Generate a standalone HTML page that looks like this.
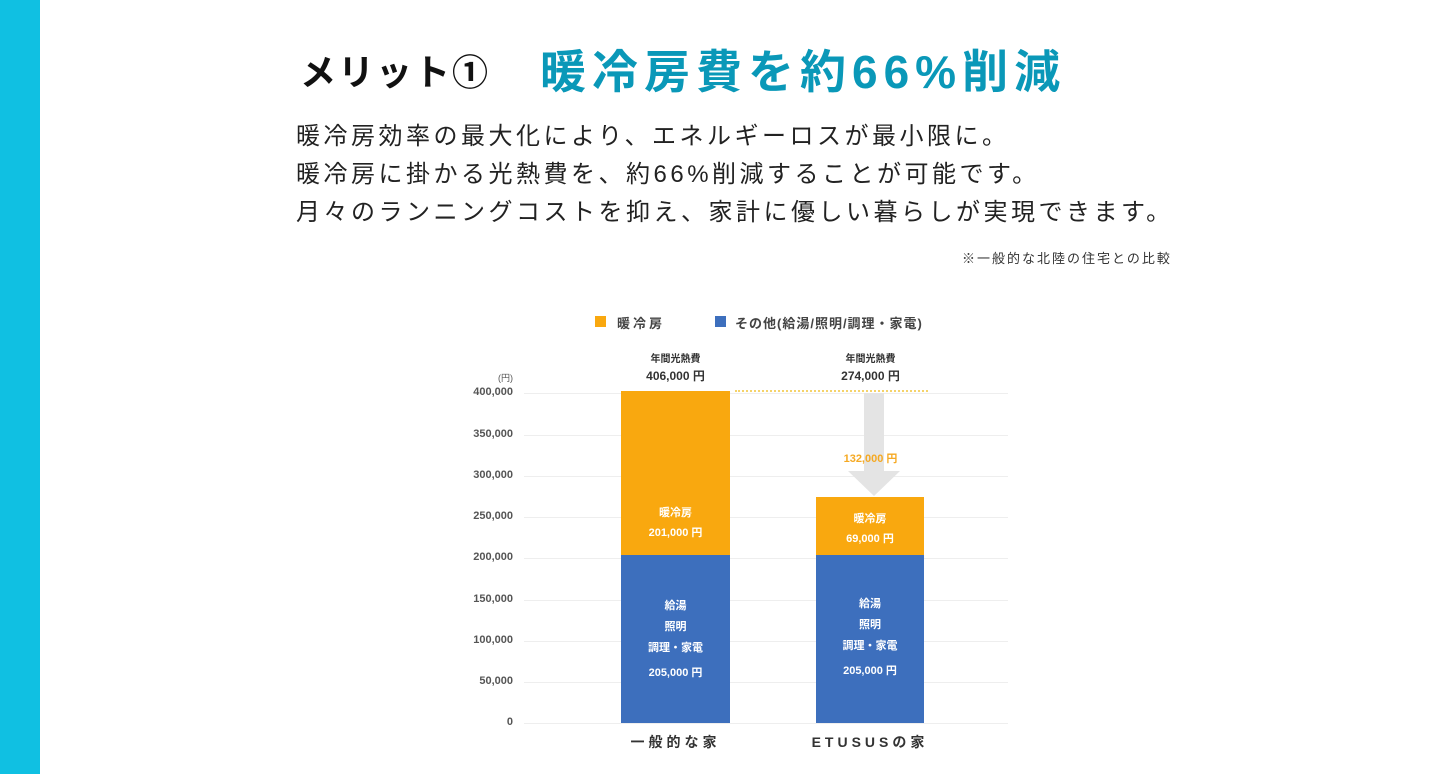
<!DOCTYPE html>
<html><head><meta charset="utf-8"><style>
body{margin:0;width:1440px;height:774px;background:#fff;position:relative;overflow:hidden;font-family:"Liberation Sans","Noto Sans CJK JP",sans-serif}
.a{position:absolute;white-space:nowrap}
.yl{position:absolute;left:440px;width:73px;text-align:right;font-size:11px;color:#555;font-weight:bold}
.g{position:absolute;left:524px;width:484px;height:1px;background:#eee}
.w{color:#fff;font-weight:bold;font-size:11px;text-align:center;position:absolute}
</style></head><body>
<div class="a" style="left:0;top:0;width:40px;height:774px;background:#10c0e2"></div>
<div class="a" style="left:300px;top:44px;font-size:36px;font-weight:bold;color:#111;letter-spacing:2px">メリット①</div>
<div class="a" style="left:540px;top:36px;font-size:46px;font-weight:bold;color:#0a98b8;letter-spacing:6px">暖冷房費を約66%削減</div>
<div class="a" style="left:296px;top:118px;font-size:24px;line-height:38px;color:#222;letter-spacing:3.5px">暖冷房効率の最大化により、エネルギーロスが最小限に。<br>暖冷房に掛かる光熱費を、約66%削減することが可能です。<br>月々のランニングコストを抑え、家計に優しい暮らしが実現できます。</div>
<div class="a" style="left:962px;top:248px;font-size:13px;color:#333;letter-spacing:2px">※一般的な北陸の住宅との比較</div>
<div class="a" style="left:595px;top:316px;width:11px;height:11px;background:#f9a80f"></div>
<div class="a" style="left:617px;top:313px;font-size:13px;font-weight:bold;color:#444;letter-spacing:3px">暖冷房</div>
<div class="a" style="left:715px;top:316px;width:11px;height:11px;background:#3d6fbd"></div>
<div class="a" style="left:735px;top:313px;font-size:13px;font-weight:bold;color:#444;letter-spacing:1px">その他(給湯/照明/調理・家電)</div>
<div class="a" style="left:498px;top:371px;font-size:9px;color:#555">(円)</div>
<div class="g" style="top:393px"></div><div class="yl" style="top:386px">400,000</div>
<div class="g" style="top:435px"></div><div class="yl" style="top:428px">350,000</div>
<div class="g" style="top:476px"></div><div class="yl" style="top:469px">300,000</div>
<div class="g" style="top:517px"></div><div class="yl" style="top:510px">250,000</div>
<div class="g" style="top:558px"></div><div class="yl" style="top:551px">200,000</div>
<div class="g" style="top:600px"></div><div class="yl" style="top:593px">150,000</div>
<div class="g" style="top:641px"></div><div class="yl" style="top:634px">100,000</div>
<div class="g" style="top:682px"></div><div class="yl" style="top:675px">50,000</div>
<div class="g" style="top:723px"></div><div class="yl" style="top:716px">0</div>
<div class="a" style="left:735px;top:390px;width:193px;border-top:2px dotted #f5d36a"></div>
<div class="w" style="left:621px;top:391px;width:109px;height:164px;background:#f9a80f"></div>
<div class="w" style="left:621px;top:555px;width:109px;height:168px;background:#3d6fbd"></div>
<div class="w" style="left:816px;top:497px;width:108px;height:58px;background:#f9a80f"></div>
<div class="w" style="left:816px;top:555px;width:108px;height:168px;background:#3d6fbd"></div>
<div class="a" style="left:864px;top:393px;width:20px;height:78px;background:#e4e4e4"></div>
<div class="a" style="left:848px;top:471px;width:0;height:0;border-left:26px solid transparent;border-right:26px solid transparent;border-top:25px solid #e4e4e4"></div>
<div class="a" style="left:620px;top:352px;width:111px;text-align:center;font-size:10px;font-weight:bold;color:#333;line-height:16px">年間光熱費<br><span style="font-size:12px">406,000 円</span></div>
<div class="a" style="left:815px;top:352px;width:111px;text-align:center;font-size:10px;font-weight:bold;color:#333;line-height:16px">年間光熱費<br><span style="font-size:12px">274,000 円</span></div>
<div class="a" style="left:815px;top:450px;width:111px;text-align:center;font-size:11px;font-weight:bold;color:#f5a923">132,000 円</div>
<div class="w" style="left:621px;top:503px;width:109px;line-height:20px">暖冷房<br>201,000 円</div>
<div class="w" style="left:816px;top:509px;width:108px;line-height:20px">暖冷房<br>69,000 円</div>
<div class="w" style="left:621px;top:596px;width:109px;line-height:21px">給湯<br>照明<br>調理・家電<br><span style="line-height:29px">205,000 円</span></div>
<div class="w" style="left:816px;top:594px;width:108px;line-height:21px">給湯<br>照明<br>調理・家電<br><span style="line-height:29px">205,000 円</span></div>
<div class="a" style="left:620px;top:732px;width:111px;text-align:center;font-size:14px;font-weight:bold;color:#333;letter-spacing:4px">一般的な家</div>
<div class="a" style="left:800px;top:732px;width:140px;text-align:center;font-size:14px;font-weight:bold;color:#333;letter-spacing:4px">ETUSUSの家</div>
</body></html>
